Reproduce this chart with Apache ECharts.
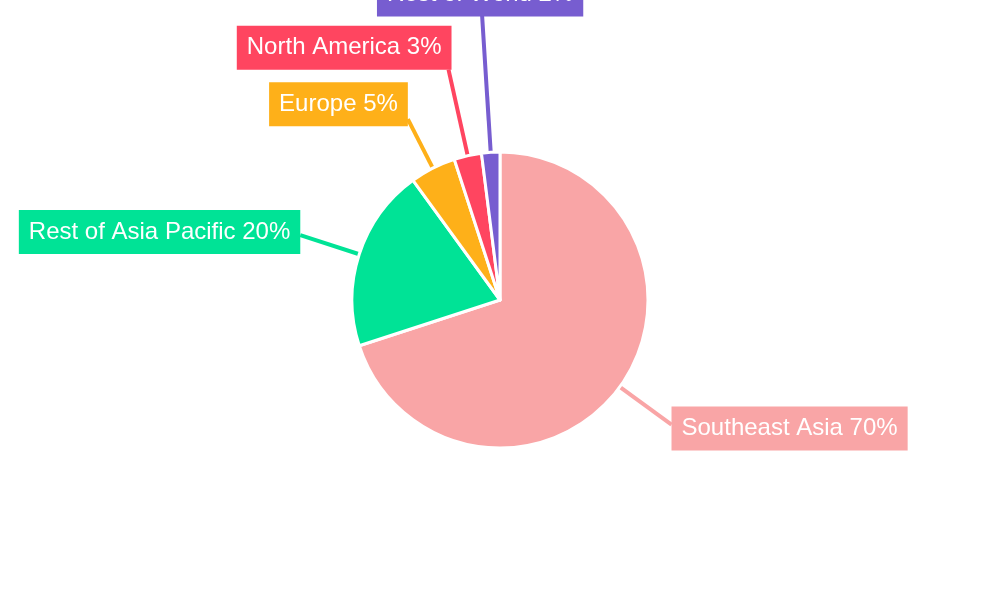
<!DOCTYPE html>
<html>
<head>
<meta charset="utf-8">
<script src="https://cdn.jsdelivr.net/npm/echarts@6/dist/echarts.min.js"></script>
<style>
  html, body { margin: 0; padding: 0; background: #fff; }
  #chart { width: 1000px; height: 600px; }
</style>
</head>
<body>
<div id="chart"></div>
<script>
// regions and their share (%)
const regions = ['Southeast Asia', 'Rest of Asia Pacific', 'Europe', 'North America', 'Rest of World'];
const shares = [70, 20, 5, 3, 2];
const colors = ['#F9A5A6', '#00E396', '#FEB019', '#FF4560', '#775DD0'];

// label line length and label placement per slice
const lineLengths = [64, 62, 55, 88, 137];
const labelAligns = ['left', 'right', 'right', 'right', 'center'];
const labelVAligns = ['middle', 'middle', 'middle', 'bottom', 'bottom'];
const labelShiftX = [0, 0, 0, 3, -2];
const labelShiftY = [4, -3, -15, 0, 1];

const chart = echarts.init(document.getElementById('chart'));

const pieData = regions.map((name, i) => ({
  name: name,
  value: shares[i],
  itemStyle: { color: colors[i] },
  label: { backgroundColor: colors[i] },
  labelLine: { length: lineLengths[i], lineStyle: { color: colors[i] } }
}));

chart.setOption({
  animation: false,
  series: [{
    type: 'pie',
    center: ['50%', '50%'],
    radius: 148,
    startAngle: 90,
    clockwise: true,
    avoidLabelOverlap: false,
    itemStyle: { borderColor: '#fff', borderWidth: 3 },
    label: {
      show: true,
      position: 'outside',
      formatter: '{b} {d}%',
      color: '#fff',
      fontFamily: 'Liberation Sans, Arial, sans-serif',
      fontSize: 24,
      padding: [10, 10],
      distanceToLabelLine: 0
    },
    labelLine: {
      show: true,
      length2: 0,
      smooth: false,
      lineStyle: { width: 4 }
    },
    labelLayout: function (p) {
      const i = p.dataIndex;
      return {
        align: labelAligns[i],
        verticalAlign: labelVAligns[i],
        dx: labelShiftX[i],
        dy: labelShiftY[i]
      };
    },
    data: pieData
  }]
});
</script>
</body>
</html>
